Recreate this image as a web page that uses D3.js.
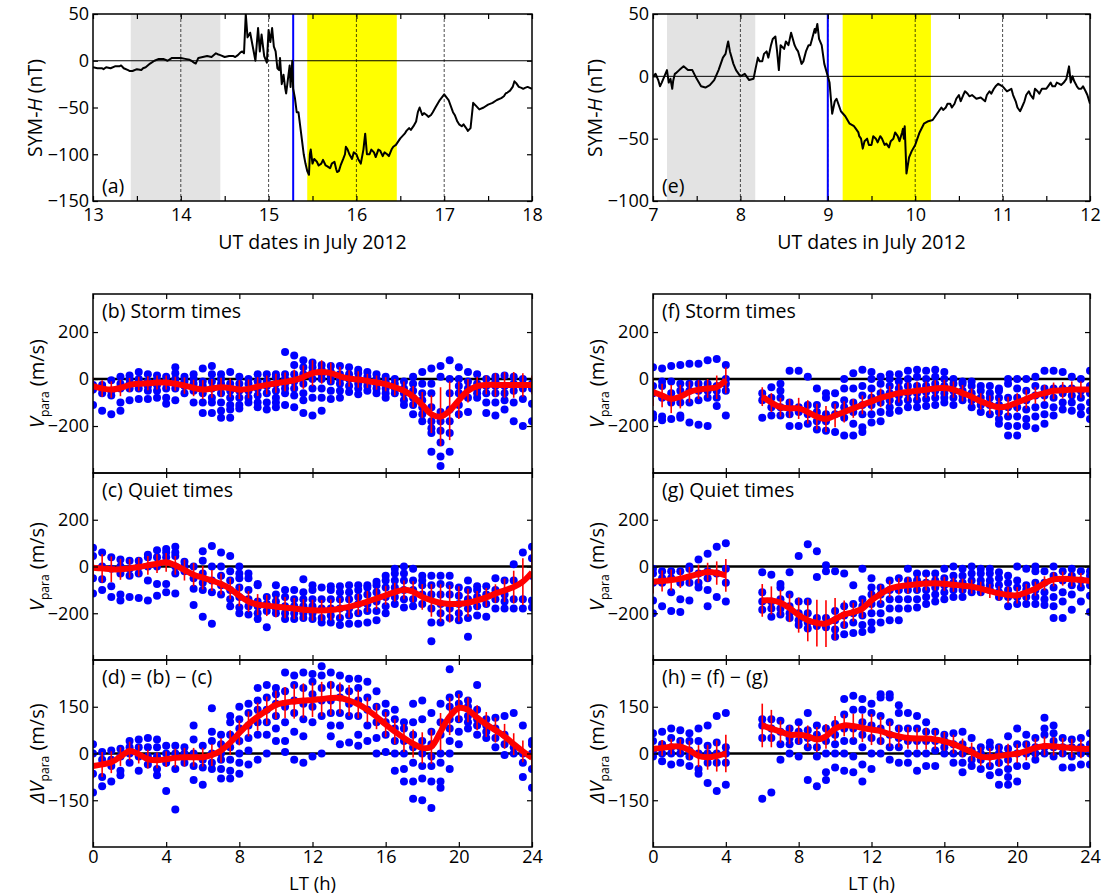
<!DOCTYPE html>
<html>
<head>
<meta charset="utf-8">
<title>SYM-H and Vpara</title>
<script src="https://cdn.jsdelivr.net/npm/d3@7"></script>
<style>
  body { margin: 0; background: #fff; }
  svg text { font-family: 'Open Sans', 'Noto Sans', sans-serif; fill: #000; }
</style>
</head>
<body>
<svg id="fig" width="1105" height="896"></svg>
<script>
// ---------- data ----------
// SYM-H (nT), [UT day in July 2012, value]
var symA = [[13.0,-7],[13.05,-8],[13.1,-8],[13.15,-7],[13.2,-8],[13.25,-6],[13.3,-6],[13.35,-8],[13.4,-10],[13.45,-11],
  [13.5,-9],[13.55,-10],[13.6,-7],[13.65,-3],[13.7,0],[13.75,2],[13.8,2],[13.85,0],[13.9,3],[13.95,3],[14.0,3],[14.05,2],
  [14.1,1],[14.15,-2],[14.2,3],[14.25,4],[14.3,5],[14.35,4],[14.4,8],[14.45,6],[14.5,4],[14.55,5],[14.6,5],[14.65,6],
  [14.7,10],[14.72,8],[14.74,50],[14.76,25],[14.79,30],[14.82,15],[14.85,0],[14.88,35],[14.9,10],[14.92,28],[14.95,5],
  [14.98,-2],[15.0,33],[15.02,20],[15.04,35],[15.06,15],[15.08,10],[15.1,-8],[15.12,-10],[15.13,3],[15.15,-25],[15.17,-15],
  [15.19,-30],[15.2,-35],[15.22,-20],[15.24,-5],[15.25,-28],[15.27,0],[15.28,-30],[15.3,-40],[15.32,-55],[15.34,-55],
  [15.36,-70],[15.38,-85],[15.4,-100],[15.42,-110],[15.44,-118],[15.46,-122],[15.48,-95],[15.5,-110],[15.55,-108],
  [15.6,-110],[15.65,-112],[15.7,-115],[15.75,-108],[15.8,-118],[15.85,-105],[15.9,-95],[15.95,-105],[16.0,-100],
  [16.05,-110],[16.08,-95],[16.1,-78],[16.12,-100],[16.15,-100],[16.2,-98],[16.25,-95],[16.3,-102],[16.35,-100],
  [16.4,-95],[16.45,-90],[16.5,-83],[16.55,-78],[16.6,-72],[16.65,-70],[16.7,-55],[16.72,-50],[16.75,-58],[16.8,-58],
  [16.85,-58],[16.9,-50],[16.95,-42],[17.0,-36],[17.05,-42],[17.1,-55],[17.15,-65],[17.2,-70],[17.25,-72],[17.3,-72],
  [17.33,-45],[17.36,-48],[17.4,-52],[17.5,-47],[17.6,-42],[17.7,-35],[17.75,-32],[17.8,-22],[17.85,-28],[17.9,-30],
  [17.95,-28],[18.0,-30],
  // extra readings in the noisy stretches
  [15.47,-100],[15.52,-105],[15.57,-112],[15.62,-106],[15.67,-113],[15.72,-110],[15.77,-116],[15.78,-119],[15.82,-112],
  [15.87,-100],[15.88,-92],[15.92,-100],[15.97,-98],[16.02,-105],[16.17,-95],[16.22,-103],[16.27,-96],[16.32,-98],
  [16.37,-102],[16.42,-92],[16.57,-75],[16.62,-74],[16.68,-65],[16.77,-56],[16.82,-60],[16.87,-55],[17.12,-58],
  [17.17,-68],[17.22,-68],[17.27,-75],[17.45,-50],[17.55,-45],[17.65,-40],[17.68,-38],[17.72,-34],[17.78,-28],
  [17.82,-24],[17.88,-29],[17.92,-29],[13.12,-9],[13.32,-5],[13.42,-11],[13.57,-8],[14.12,0],[14.17,-3],[14.42,7],
  [14.62,4],[14.68,9]];

var symE = [[7.0,0],[7.03,2],[7.06,-3],[7.08,-8],[7.1,-5],[7.13,0],[7.16,5],[7.18,-5],[7.2,-2],[7.22,-10],[7.25,2],
  [7.3,5],[7.35,8],[7.4,5],[7.45,5],[7.5,-2],[7.55,-8],[7.6,-9],[7.65,-7],[7.7,-3],[7.75,5],[7.8,15],[7.85,25],
  [7.88,20],[7.9,15],[7.95,5],[8.0,0],[8.05,2],[8.1,-3],[8.15,-2],[8.17,5],[8.2,15],[8.25,12],[8.3,20],[8.35,25],
  [8.4,32],[8.42,20],[8.44,5],[8.46,25],[8.5,22],[8.55,25],[8.58,35],[8.62,25],[8.66,20],[8.7,10],[8.75,20],[8.8,25],
  [8.85,38],[8.88,42],[8.9,30],[8.93,25],[8.96,10],[9.0,0],[9.02,-5],[9.05,-30],[9.08,-20],[9.1,-18],[9.15,-28],
  [9.2,-32],[9.25,-38],[9.3,-40],[9.35,-45],[9.38,-50],[9.4,-58],[9.45,-50],[9.5,-55],[9.55,-50],[9.6,-48],[9.65,-55],
  [9.7,-57],[9.75,-50],[9.8,-48],[9.85,-45],[9.88,-40],[9.9,-78],[9.93,-65],[9.96,-60],[10.0,-55],[10.05,-45],
  [10.1,-38],[10.15,-36],[10.2,-35],[10.25,-30],[10.3,-25],[10.35,-25],[10.4,-22],[10.45,-22],[10.5,-15],[10.55,-15],
  [10.6,-14],[10.7,-18],[10.75,-17],[10.8,-20],[10.85,-12],[10.9,-10],[10.95,-6],[11.0,-8],[11.05,-12],[11.1,-10],
  [11.15,-20],[11.2,-28],[11.25,-20],[11.3,-12],[11.35,-18],[11.4,-12],[11.45,-10],[11.5,-10],[11.55,-5],[11.6,-8],
  [11.65,-6],[11.7,-5],[11.73,-2],[11.76,8],[11.78,-5],[11.8,0],[11.85,-8],[11.9,-10],[11.95,-12],[12.0,-22],
  // extra readings in the noisy stretches
  [8.22,12],[8.27,18],[8.32,15],[8.37,30],[8.52,28],[8.6,30],[8.64,22],[8.68,15],[8.72,12],[8.78,25],[8.82,30],
  [8.86,35],[9.32,-42],[9.36,-48],[9.42,-52],[9.47,-55],[9.52,-48],[9.57,-53],[9.62,-50],[9.67,-54],[9.72,-52],
  [9.77,-45],[9.82,-52],[9.86,-42],[9.87,-50],[10.32,-27],[10.37,-22],[10.42,-25],[10.47,-18],[10.52,-20],[10.57,-12],
  [10.62,-16],[10.65,-15],[10.82,-15],[10.87,-14],[10.92,-8],[11.12,-15],[11.17,-25],[11.22,-25],[11.27,-15],
  [11.32,-15],[11.37,-10],[11.42,-14],[11.52,-8],[11.57,-8],[11.62,-5],[11.67,-7],[11.82,-4],[11.87,-10],[11.92,-8],
  [11.97,-15],[7.23,-4],[7.27,3],[7.83,18],[7.86,28],[7.92,10],[7.97,3]];

// shaded intervals and storm onset (UT day)
var quietA = [13.43, 14.45], stormA = [15.44, 16.46], onsetA = 15.28;
var quietE = [7.16, 8.17],   stormE = [9.17, 10.18],  onsetE = 9.0;

// LT bins (h)
var ltBins = [0,0.5,1,1.5,2,2.5,3,3.5,4,4.5,5,5.5,6,6.5,7,7.5,8,8.5,9,9.5,10,10.5,11,11.5,12,
  12.5,13,13.5,14,14.5,15,15.5,16,16.5,17,17.5,18,18.5,19,19.5,20,20.5,21,21.5,22,22.5,23,23.5,24];

// (b) storm times, July 15-16
var bPts = [[-110,-45,-35,-25],[-135,-60,-40,-25],[-150,-70,-50,-5],[-135,-100,-40,-20,10],[-90,-40,-20,0,15],
  [-85,-40,-20,0,30],[-85,-50,-30,-10,20],[-80,-50,-25,-5,15],[-105,-80,-40,-15,10],[-90,-40,-20,0,25,50],
  [-60,-30,-10,10],[-100,-50,-20,0,20],[-145,-100,-60,-30,-10,45],[-145,-100,-80,-40,-10,20,55],
  [-165,-135,-100,-60,-20,0,20],[-165,-130,-110,-80,-50,-20,30],[-125,-110,-80,-50,-20,10],[-100,-80,-50,-20,0],
  [-120,-100,-70,-40,-10,20],[-130,-100,-60,-30,-10,20],[-120,-100,-80,-50,-20,10,20],[-110,-60,-40,-20,0,20,115],
  [-120,-70,-40,-10,20,60,100],[-145,-90,-60,-20,20,50,80],[-155,-80,-40,0,30,50,70],[-135,-80,-40,0,20,40,60],
  [-85,-50,-10,10,30,55],[-80,-50,-20,0,20,55],[-55,-30,0,20,50],[-65,-40,-20,0,25,40],[-50,-30,-10,10,30],
  [-60,-40,-20,0,20],[-80,-60,-40,-10,10],[-60,-40,-20,0],[-110,-90,-60,-40,-10],[-150,-110,-80,-50,-20,10],
  [-180,-150,-120,-90,-60,-20,30],[-310,-230,-210,-180,-120,-60,-20,45],[-370,-330,-270,-220,-180,-140,10,55],
  [-310,-230,-180,-130,-60,0,80],[-150,-110,-60,-30,0,50],[-140,-80,-40,-10,30],[-80,-60,-40,-20,20],
  [-145,-100,-60,-30,0],[-155,-100,-60,-30,-10,10],[-130,-90,-60,-30,15],[-180,-100,-50,-20,10],[-200,-85,-40,0],
  [-180,-105,-40,-20]];
var bMean = [-30,-40,-45,-38,-25,-20,-18,-15,-15,-20,-28,-38,-45,-40,-35,-38,-45,-42,-32,-25,-18,-12,-5,8,25,30,25,
  12,2,-2,-8,-15,-22,-35,-50,-75,-110,-150,-160,-135,-90,-50,-30,-25,-25,-25,-25,-25,-25];
var bErr = [35,35,35,35,30,30,30,30,30,30,35,35,40,40,40,40,40,40,40,40,40,40,45,50,55,50,45,40,35,35,30,30,30,35,
  40,45,55,80,125,125,80,50,40,40,50,55,55,50,40];

// (c) quiet times, July 13-14
var cPts = [[-115,-50,45,80],[-100,-55,0,60],[-130,-85,-10,40],[-145,-120,-30,0,30],[-130,-40,-10,25],
  [-135,-30,0,25],[-145,-60,0,40,50],[-125,-75,0,40,70],[-110,-75,40,60,75],[-115,-30,0,45,60,85],[-20,0,20],
  [-165,-95,-50,0],[-215,-100,-70,-30,25,65],[-245,-110,-60,0,88],[-120,-80,-40,0,60],[-170,-140,-100,-60,-20,45],
  [-200,-175,-130,-90,-50,-30,0],[-205,-170,-140,-100,-50,-30],[-225,-200,-170,-150,-80,-75],[-260,-190,-160,-130],
  [-200,-180,-150,-120,-80],[-225,-200,-170,-130,-100],[-225,-200,-170,-140,-100],[-220,-200,-170,-140,-110,-55],
  [-225,-200,-170,-140,-100,-80],[-240,-220,-180,-140,-90],[-240,-210,-180,-140,-100,-85],
  [-250,-220,-180,-140,-110,-85],[-245,-210,-180,-140,-110,-80],[-245,-200,-160,-130,-100,-80],
  [-240,-190,-160,-120,-90,-80],[-230,-190,-150,-110,-80,-65],[-200,-170,-130,-90,-60,-40],
  [-160,-130,-90,-60,-30,-10],[-175,-140,-100,-60,-30,0],[-170,-140,-100,-60,-10],[-160,-120,-80,-60,-40],
  [-320,-240,-180,-120,-80,-40],[-240,-200,-160,-120,-75,-40],[-220,-180,-120,-80,-40],[-230,-200,-160,-125,-90],
  [-300,-220,-180,-140,-100,-60],[-210,-170,-130,-100,-85],[-215,-160,-120,-85],[-180,-140,-100,-50],
  [-180,-150,-120,-60],[-180,-140,-60,10],[-180,-140,60],[-175,-145,-40,35,85]];
var cMean = [-5,-8,-12,-12,-8,-2,5,12,18,5,-15,-35,-48,-60,-75,-95,-125,-150,-163,-167,-172,-176,-180,-185,-187,
  -188,-186,-180,-173,-162,-150,-137,-123,-110,-100,-108,-130,-145,-156,-160,-160,-155,-145,-132,-116,-102,-88,-65,-25];
var cErr = [50,60,55,45,40,40,40,40,40,40,45,50,50,45,45,45,45,45,45,45,45,45,45,45,45,45,45,45,45,45,45,45,40,40,
  40,45,55,70,80,80,75,60,40,40,40,50,70,100,100];

// (d) = (b) - (c)
var dPts = [[-125,-65,0,30],[-105,-75,-20,5],[-90,-40,-20,10],[-70,-55,-10,15],[-30,0,20,40],[-55,-10,20,45],
  [-35,-10,20,50],[-70,-50,-10,20,45],[-120,-30,0,25],[-180,-50,0,25],[-30,0,20],[-85,-40,0,45,90],
  [-100,-45,-20,25],[-50,-30,0,40,70,145],[-80,-50,-20,0,30,60],[-80,-55,-20,20,60,100,120],
  [-65,-30,0,40,80,110,150],[-35,10,50,90,130,160],[-20,60,100,140,170,210],[0,60,100,140,180,220],
  [40,80,120,160,190,210],[5,40,100,150,200,260],[-20,70,130,170,220,250],[-30,55,110,160,210,260],
  [-10,100,150,190,230,255],[0,120,170,210,250,280],[55,90,130,170,220,260],[30,90,130,180,210,250],
  [35,120,160,200,240],[25,60,120,170,210,240],[40,90,140,180,230],[0,50,100,150,200],[5,60,100,130,160],
  [-55,0,40,80,110,140],[-90,-50,0,40,80,100],[-145,-90,-30,20,60,100,160],[-150,-80,-40,0,40,110,170],
  [-175,-90,-40,-10,30,70,130],[-110,-90,-30,0,60,100,160],[-50,0,40,80,110,150,180,270],[30,70,110,160,190],
  [80,100,120,150,170],[60,90,110,140,220],[50,70,90,110],[20,50,80,115],[-5,30,60,120],[0,20,130],
  [-75,-30,0,90],[-110,-50,0,30,40]];
var dMean = [-40,-35,-28,-10,8,-2,-18,-22,-18,-14,-12,-12,-12,-5,10,35,66,95,118,138,156,163,167,170,172,175,178,
  178,170,158,140,118,93,70,50,32,18,22,70,119,146,140,115,93,75,55,30,7,-14];
var dErr = [40,40,35,30,30,30,30,25,25,30,30,30,30,35,40,40,40,40,45,45,45,50,55,55,55,55,55,50,50,45,40,40,40,40,
  45,45,50,55,60,60,45,40,40,40,40,40,35,35,35];

// (f) storm times, July 9-10 (no data 4.5-5.5 LT)
var fPts = [[-165,-150,-60,-30,50],[-175,-160,-80,-30,-10,45],[-170,-100,-60,-10,55],[-165,-155,-100,-50,-20,60],
  [-185,-100,-50,-20,65],[-195,-90,-50,-20,65],[-200,-80,-50,-20,80],[-115,-80,-50,-30,85],[-155,-50,-20,0,60],
  [],[],[],
  [-165,-90,-60],[-155,-120,-80,-35],[-155,-120,-80,-50,-20],[-200,-150,-120,-100,35],[-200,-140,-120,35],
  [-190,-150,-110,10],[-215,-180,-140,-110,-40],[-220,-180,-150,-80,-60],[-225,-150,-110,-60],
  [-240,-165,-120,-90,-40,0],[-240,-190,-140,-100,-40,25],[-225,-205,-150,-110,-70,-30,40],
  [-185,-150,-110,-80,-40,0,30],[-180,-140,-100,-60,-20,10],[-145,-120,-90,-60,-30,0,20],
  [-135,-100,-70,-40,-10,20],[-120,-90,-60,-30,0,35],[-120,-90,-60,-30,10,40],[-115,-85,-55,-30,0,35],
  [-110,-80,-50,-20,10,40],[-100,-80,-60,-30,0,30],[-110,-80,-50,-20,0],[-90,-70,-50,-20,-10],
  [-120,-90,-60,-30,-10],[-140,-110,-80,-50,-30],[-150,-110,-80,-60,-30],[-190,-170,-140,-110,-80,-50,-40],
  [-240,-200,-160,-120,-80,-20,0],[-240,-200,-160,-120,-80,-40,0],[-200,-170,-130,-90,-50,0],
  [-210,-160,-120,-70,-30,10],[-190,-150,-110,-70,-40,35],[-155,-120,-80,-40,35],[-130,-100,-60,-40,30],
  [-135,-100,-70,-40,10],[-150,-120,-80,-50,0],[-170,-135,-100,-60,-30,35]];
var fMean = [-55,-70,-85,-75,-55,-45,-40,-35,-5,null,null,null,-75,-100,-120,-125,-125,-140,-160,-170,-155,-140,
  -125,-110,-95,-80,-70,-60,-55,-50,-45,-40,-38,-45,-60,-75,-95,-110,-120,-115,-100,-85,-70,-60,-50,-48,-45,-45,-45];
var fErr = [60,50,60,50,45,40,40,50,55,null,null,null,40,40,40,40,45,50,55,55,50,45,40,40,40,40,40,40,40,40,35,35,
  35,35,35,35,35,40,40,40,40,40,35,35,35,35,35,35,35];

// (g) quiet times, July 7-8
var gPts = [[-200,-145,-70,-30,-10],[-170,-70,-50,-20],[-190,-110,-50,-20],[-195,-140,-70,-20],[-145,-70,-10,0],
  [-90,-70,-30,30],[-170,-100,-50,-20,55],[-130,-30,85],[-150,-70,-10,100],
  [],[],[],
  [-185,-150,-110,-25],[-215,-180,-150,-35],[-205,-180,-140,-90,-75],[-220,-200,-170,-120,-25],
  [-250,-230,-200,-150,45],[-265,-240,-200,-150,95],[-255,-220,-45,65],[-260,-220,-20,5],
  [-300,-270,-230,-190,-20],[-290,-250,-210,-170,-30],[-285,-240,-200,-160,-80],[-280,-250,-210,-170,-140,-10],
  [-270,-240,-200,-160,-120,-90,-50],[-240,-200,-160,-120,-90],[-230,-180,-140,-100,-60],[-230,-180,-140,-100,-50],
  [-180,-140,-100,-60,-10],[-175,-140,-100,-60,-30],[-160,-130,-100,-70,-30],[-150,-120,-90,-60,-30],
  [-140,-110,-80,-50,-10],[-130,-100,-70,-40,0],[-130,-100,-70,-40,-10],[-110,-90,-60,-30,0],
  [-110,-80,-60,-30,-10],[-100,-80,-60,-30,-10],[-130,-110,-80,-50,-25],[-170,-130,-100,-70,-40],
  [-160,-130,-90,-60,0],[-160,-130,-100,-80,-10],[-160,-130,-100,-70,-20,0],[-165,-140,-110,-70,-20],
  [-220,-170,-130,-90,-40,0],[-220,-150,-110,-60,-20],[-185,-120,-80,-40,-10],[-150,-90,-60,-20],
  [-195,-125,-80,-40,-20]];
var gMean = [-65,-62,-58,-52,-42,-32,-24,-28,-38,null,null,null,-145,-145,-155,-178,-208,-230,-242,-244,-225,-205,
  -195,-180,-145,-118,-95,-85,-80,-76,-73,-72,-74,-78,-82,-86,-95,-105,-115,-122,-123,-110,-95,-72,-55,-52,-55,-58,-62];
var gErr = [50,45,45,40,40,40,40,50,70,null,null,null,70,60,55,60,75,90,100,100,90,60,40,40,40,40,35,35,35,35,30,
  30,30,30,30,30,30,30,30,35,35,35,30,30,30,30,30,30,30];

// (h) = (f) - (g)
var hPts = [[-10,10,40,65],[-25,0,30,70],[-35,0,20,50,80],[-30,0,20,40,75],[-40,-10,10,40,65],[-65,-50,0,40,80],
  [-95,-30,0,25,90],[-120,-30,0,35,120],[-100,-30,0,20,130],
  [],[],[],
  [-145,50,90,110],[-125,50,80,110],[-20,30,70,105],[0,30,50,80],[-10,40,70,100],[-85,20,50,75,130],
  [-105,-10,20,60,90],[-85,-60,0,40,80],[-45,0,30,60,95],[-55,0,40,80,125,175],[-60,-10,40,80,140,185],
  [-90,-35,20,60,100,140,175],[-50,0,50,90,130,160],[0,40,80,120,180,190],[-20,20,60,100,180,190],
  [-30,20,50,80,130,155],[-30,0,40,80,130],[-55,0,40,80,120],[-40,0,40,70,100],[-40,10,40,70],[0,20,40,60],
  [-30,0,30,65],[-60,-30,0,30,70],[-40,-20,10,50],[-50,-20,0,20],[-70,-40,-10,20,35],[-100,-60,-30,0,20],
  [-100,-75,-50,-20,15,55],[-90,-40,0,30,80],[-40,0,30,60],[-20,0,20,50],[0,20,60,80,115],[-10,20,40,65,90],
  [-45,0,20,50],[-45,-10,20,45],[-35,0,20,50],[-35,0,30,65]];
var hMean = [15,18,22,22,10,-8,-12,-8,0,null,null,null,90,80,70,60,60,55,45,55,80,90,88,82,77,72,62,55,50,48,48,45,
  39,30,18,5,-10,-12,-8,-4,0,8,18,24,23,20,17,15,15];
var hErr = [25,25,25,25,30,35,40,50,60,null,null,null,70,60,35,30,30,35,40,40,40,35,40,45,50,45,40,35,35,35,35,30,
  30,30,30,30,30,30,35,35,30,30,30,30,30,30,30,30,30];

// ---------- drawing ----------
var svg = d3.select("#fig");
var minus = function(d) { return d < 0 ? "\u2212" + Math.abs(d) : "" + d; };
var TICK_FS = "18px", LABEL_FS = "19.5px";

var cols = [{x0: 93, x1: 532}, {x0: 653, x1: 1090}];
var clipId = 0;

function frame(g, x, y, xt, yt, xlabels, xpad) {
  var w = x.range()[1] - x.range()[0];
  var h = y.range()[0] - y.range()[1];
  var x0 = x.range()[0], yb = y.range()[0], yt0 = y.range()[1];

  g.append("g").attr("transform", "translate(0," + yb + ")")
    .call(d3.axisBottom(x).tickValues(xt).tickSizeInner(-5).tickSizeOuter(0).tickPadding(xpad)
      .tickFormat(function(d) { return xlabels && xlabels.indexOf(d) >= 0 ? d : ""; }));
  g.append("g").attr("transform", "translate(0," + yt0 + ")")
    .call(d3.axisTop(x).tickValues(xt).tickSizeInner(-5).tickSizeOuter(0).tickFormat(""));
  g.append("g").attr("transform", "translate(" + x0 + ",0)")
    .call(d3.axisLeft(y).tickValues(yt).tickSizeInner(-5).tickSizeOuter(0).tickPadding(4).tickFormat(minus));
  g.append("g").attr("transform", "translate(" + x.range()[1] + ",0)")
    .call(d3.axisRight(y).tickValues(yt).tickSizeInner(-5).tickSizeOuter(0).tickFormat(""));

  g.selectAll(".domain").remove();
  g.selectAll(".tick line").attr("stroke", "#000").attr("stroke-width", 1.2);
  g.selectAll(".tick text").style("font-size", TICK_FS).attr("fill", "#000");

  g.append("rect").attr("x", x0).attr("y", yt0).attr("width", w).attr("height", h)
    .attr("fill", "none").attr("stroke", "#000").attr("stroke-width", 1.5);
}

function clipFor(g, x, y) {
  var id = "clip" + (clipId++);
  g.append("clipPath").attr("id", id).append("rect")
    .attr("x", x.range()[0]).attr("y", y.range()[1])
    .attr("width", x.range()[1] - x.range()[0]).attr("height", y.range()[0] - y.range()[1]);
  return "url(#" + id + ")";
}

function drawSym(col, data, dom, yDom, yTicks, quiet, storm, onset, tag) {
  var x = d3.scaleLinear().domain(dom).range([col.x0, col.x1]);
  var y = d3.scaleLinear().domain(yDom).range([201, 14]);
  var g = svg.append("g");
  var inner = g.append("g").attr("clip-path", clipFor(g, x, y));
  var series = data.slice().sort(function(a, b) { return a[0] - b[0]; });

  inner.append("rect").attr("x", x(quiet[0])).attr("width", x(quiet[1]) - x(quiet[0]))
    .attr("y", 14).attr("height", 187).attr("fill", "#e3e3e3");
  inner.append("rect").attr("x", x(storm[0])).attr("width", x(storm[1]) - x(storm[0]))
    .attr("y", 14).attr("height", 187).attr("fill", "#ffff00");

  var days = d3.range(dom[0] + 1, dom[1]);
  inner.selectAll(".day").data(days).enter().append("line")
    .attr("x1", x).attr("x2", x).attr("y1", 14).attr("y2", 201)
    .attr("stroke", "#000").attr("stroke-width", 0.7).attr("stroke-dasharray", "3,2");
  inner.append("line").attr("x1", col.x0).attr("x2", col.x1).attr("y1", y(0)).attr("y2", y(0))
    .attr("stroke", "#000").attr("stroke-width", 1);
  inner.append("line").attr("x1", x(onset)).attr("x2", x(onset)).attr("y1", 14).attr("y2", 201)
    .attr("stroke", "#0000ff").attr("stroke-width", 2);

  inner.append("path").datum(series)
    .attr("d", d3.line().x(function(d) { return x(d[0]); }).y(function(d) { return y(d[1]); }))
    .attr("fill", "none").attr("stroke", "#000").attr("stroke-width", 2).attr("stroke-linejoin", "round");

  var xt = d3.range(dom[0], dom[1] + 0.01, 0.5);
  frame(g, x, y, xt, yTicks, d3.range(dom[0], dom[1] + 1), 7);

  g.append("text").attr("x", col.x0 + 9).attr("y", 193).style("font-size", LABEL_FS).text(tag);
  g.append("text").attr("x", (col.x0 + col.x1) / 2).attr("y", 249).attr("text-anchor", "middle")
    .style("font-size", LABEL_FS).text("UT dates in July 2012");
  var yl = g.append("text").attr("transform", "translate(" + (col.x0 - 51) + ",108) rotate(-90)")
    .attr("text-anchor", "middle").style("font-size", LABEL_FS);
  yl.append("tspan").text("SYM-");
  yl.append("tspan").style("font-style", "italic").text("H");
  yl.append("tspan").text(" (nT)");
}

function drawLT(col, y0, y1, yDom, yTicks, pts, mean, err, label, delta, bottom) {
  var x = d3.scaleLinear().domain([0, 24]).range([col.x0, col.x1]);
  var y = d3.scaleLinear().domain(yDom).range([y1, y0]);
  var g = svg.append("g");
  var inner = g.append("g").attr("clip-path", clipFor(g, x, y));

  inner.append("line").attr("x1", col.x0).attr("x2", col.x1).attr("y1", y(0)).attr("y2", y(0))
    .attr("stroke", "#000").attr("stroke-width", 2.5);

  var flat = [];
  pts.forEach(function(vals, i) { vals.forEach(function(v) { flat.push([ltBins[i], v]); }); });
  inner.selectAll(".pt").data(flat).enter().append("circle")
    .attr("cx", function(d) { return x(d[0]); }).attr("cy", function(d) { return y(d[1]); })
    .attr("r", 4).attr("fill", "#0000ff");

  var bars = ltBins.map(function(t, i) { return {t: t, m: mean[i], e: err[i]}; })
    .filter(function(d) { return d.m !== null; });
  inner.selectAll(".eb").data(bars).enter().append("line")
    .attr("x1", function(d) { return x(d.t); }).attr("x2", function(d) { return x(d.t); })
    .attr("y1", function(d) { return y(d.m - d.e); }).attr("y2", function(d) { return y(d.m + d.e); })
    .attr("stroke", "#ff0000").attr("stroke-width", 1.6);

  var line = d3.line().defined(function(d) { return d.m !== null; })
    .x(function(d) { return x(d.t); }).y(function(d) { return y(d.m); })
    .curve(d3.curveCatmullRom.alpha(0.5));
  inner.append("path").datum(ltBins.map(function(t, i) { return {t: t, m: mean[i]}; }))
    .attr("d", line).attr("fill", "none").attr("stroke", "#ff0000").attr("stroke-width", 6)
    .attr("stroke-linecap", "butt").attr("stroke-linejoin", "round");

  frame(g, x, y, [0, 4, 8, 12, 16, 20, 24], yTicks, bottom ? [0, 4, 8, 12, 16, 20, 24] : null, 3);

  g.append("text").attr("x", col.x0 + 9).attr("y", y0 + 24).style("font-size", LABEL_FS).text(label);

  var yl = g.append("text").attr("transform", "translate(" + (col.x0 - 49) + "," + ((y0 + y1) / 2) + ") rotate(-90)")
    .attr("text-anchor", "middle").style("font-size", "20px");
  if (delta) yl.append("tspan").style("font-style", "italic").text("\u0394");
  yl.append("tspan").style("font-style", "italic").text("V");
  yl.append("tspan").style("font-size", "12px").attr("dy", 5).text("para");
  yl.append("tspan").attr("dy", -5).text(" (m/s)");

  if (bottom) {
    g.append("text").attr("x", (col.x0 + col.x1) / 2).attr("y", 890).attr("text-anchor", "middle")
      .style("font-size", "18.5px").text("LT (h)");
  }
}

drawSym(cols[0], symA, [13, 18], [-150, 50], [-150, -100, -50, 0, 50], quietA, stormA, onsetA, "(a)");
drawSym(cols[1], symE, [7, 12], [-100, 50], [-100, -50, 0, 50], quietE, stormE, onsetE, "(e)");

drawLT(cols[0], 294, 473, [-400, 362], [-200, 0, 200], bPts, bMean, bErr, "(b) Storm times", false, false);
drawLT(cols[0], 473, 660, [-400, 400], [-200, 0, 200], cPts, cMean, cErr, "(c) Quiet times", false, false);
drawLT(cols[0], 660, 847, [-300, 300], [-150, 0, 150], dPts, dMean, dErr, "(d) = (b) \u2212 (c)", true, true);
drawLT(cols[1], 294, 473, [-400, 362], [-200, 0, 200], fPts, fMean, fErr, "(f) Storm times", false, false);
drawLT(cols[1], 473, 660, [-400, 400], [-200, 0, 200], gPts, gMean, gErr, "(g) Quiet times", false, false);
drawLT(cols[1], 660, 847, [-300, 300], [-150, 0, 150], hPts, hMean, hErr, "(h) = (f) \u2212 (g)", true, true);
</script>
</body>
</html>
